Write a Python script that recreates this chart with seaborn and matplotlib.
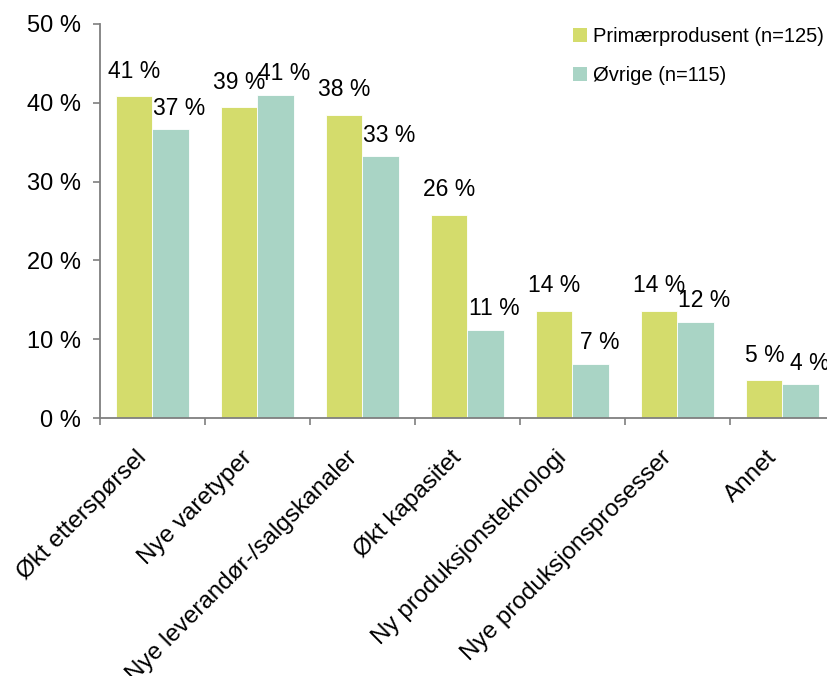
import matplotlib
matplotlib.use("Agg")
import matplotlib.pyplot as plt
from matplotlib.patches import Patch
from matplotlib.ticker import FuncFormatter, FixedLocator
import seaborn as sns
import pandas as pd

# Categories and shares (percent) for each respondent group
categories = [
    "Økt etterspørsel",
    "Nye varetyper",
    "Nye leverandør-/salgskanaler",
    "Økt kapasitet",
    "Ny produksjonsteknologi",
    "Nye produksjonsprosesser",
    "Annet",
]
primaer = [40.8, 39.4, 38.4, 25.8, 13.6, 13.6, 4.8]
ovrige = [36.6, 41.0, 33.2, 11.2, 6.9, 12.2, 4.3]
series_names = ["Primærprodusent (n=125)", "Øvrige (n=115)"]
colors = ["#D4DC6C", "#A9D4C5"]
y_ticks = [0, 10, 20, 30, 40, 50]

df = pd.DataFrame({
    "kategori": categories * 2,
    "andel": primaer + ovrige,
    "gruppe": [series_names[0]] * len(categories) + [series_names[1]] * len(categories),
})

sns.set_style("white")
plt.rcParams["font.family"] = ["Liberation Sans", "DejaVu Sans"]
plt.rcParams["text.color"] = "black"
plt.rcParams["xtick.labelcolor"] = "black"
plt.rcParams["ytick.labelcolor"] = "black"

fig = plt.figure(figsize=(8.28, 6.76), dpi=100)
ax = fig.add_axes([100 / 828, 1 - 418.3 / 676, 735 / 828, 394.6 / 676])

sns.barplot(
    data=df, x="kategori", y="andel", hue="gruppe",
    order=categories, hue_order=series_names, palette=colors,
    width=0.686, saturation=1, legend=False, ax=ax,
    edgecolor="white", linewidth=0.6,
)

# Value labels above each bar
values = [primaer, ovrige]
offsets = [(0, 13.5), (6.5, 10.5)]
for container, vals, (dx, dy) in zip(ax.containers, values, offsets):
    for bar, v in zip(container, vals):
        ax.annotate(
            f"{v:.0f} %",
            xy=(bar.get_x() + bar.get_width() / 2, v),
            xytext=(dx, dy), textcoords="offset points",
            ha="center", va="baseline", fontsize=16.5, color="black",
        )

ax.set_xlim(-0.5, len(categories) - 0.5)
ax.set_ylim(0, 50)
ax.set_yticks(y_ticks)
ax.yaxis.set_major_formatter(FuncFormatter(lambda v, _: f"{v:.0f} %"))
ax.set_xlabel("")
ax.set_ylabel("")

# Category names, rotated and hanging below each bar group
ax.set_xticks(range(len(categories)))
ax.set_xticklabels([])
for i, name in enumerate(categories):
    ax.annotate(
        name, xy=(i, 0), xycoords=("data", "axes fraction"),
        xytext=(-9, -36), textcoords="offset pixels",
        rotation=45, rotation_mode="anchor", ha="right", va="center",
        fontsize=17.5, color="black", annotation_clip=False,
    )

# Tick marks at the group boundaries
ax.xaxis.set_minor_locator(FixedLocator([i - 0.5 for i in range(len(categories) + 1)]))
ax.tick_params(axis="x", which="major", length=0)
ax.tick_params(axis="x", which="minor", length=5, width=1.2, color="#7F7F7F",
               direction="out", bottom=True)
ax.tick_params(axis="y", length=5, width=1.2, color="#7F7F7F", direction="out",
               left=True, labelsize=17, pad=9, labelcolor="black")

for side in ["top", "right"]:
    ax.spines[side].set_visible(False)
for side in ["left", "bottom"]:
    ax.spines[side].set_color("#7F7F7F")
    ax.spines[side].set_linewidth(1.3)

handles = [Patch(facecolor=c, edgecolor="none") for c in colors]
fig.legend(
    handles, series_names, loc="upper left",
    bbox_to_anchor=(573 / 828, 1 - 27 / 676), bbox_transform=fig.transFigure,
    frameon=False, fontsize=14.5, handlelength=0.7, handleheight=0.7,
    handletextpad=0.3, labelspacing=1.0, borderpad=0, borderaxespad=0,
)

fig.savefig("out.png", dpi=100)
